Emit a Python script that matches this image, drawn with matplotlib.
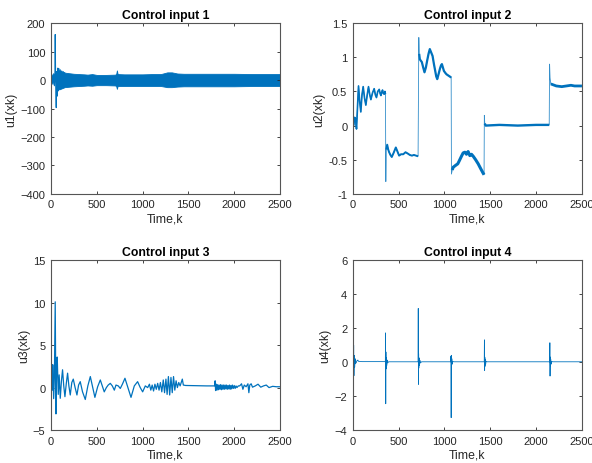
import numpy as np
import matplotlib
matplotlib.use('Agg')
import matplotlib.pyplot as plt

plt.rcParams['font.family'] = ['Liberation Sans', 'DejaVu Sans']

# ---- data ----
# control input 1: early transient
k1 = [0, 3, 8, 15, 22, 30, 38, 44, 47, 51, 55, 58, 62, 66, 70, 76, 82, 88, 95, 102, 110, 118, 126, 134, 142, 150]
u1 = [-360, 15, -12, 18, -15, 22, -20, 30, 160, 20, -40, -97, 30, -57, 10, 42, -38, 40, -33, 36, -30, 32, -28, 30, -27, 26]
# control input 1: envelope of the dense oscillation band
k1_band = [90, 150, 250, 364, 400, 450, 500, 600, 700, 712, 720, 728, 800, 900, 1000, 1100, 1200, 1270,
           1320, 1380, 1450, 1600, 1800, 2000, 2200, 2400, 2500]
u1_top = [34, 26, 22, 20, 19, 21, 18, 18, 19, 21, 34, 21, 20, 20, 20, 21, 21, 27, 27, 23, 22, 22, 22, 22, 21, 21, 21]
u1_bot = [-33, -25, -22, -20, -19, -20, -18, -18, -19, -21, -31, -21, -21, -21, -21, -21, -21, -25, -25, -23,
          -22, -22, -22, -22, -21, -21, -21]

# control input 2
k2 = [0, 2, 10, 20, 30, 40, 52, 62, 75, 87, 100, 113, 128, 142, 157, 171, 185, 197, 215, 233, 246, 258, 272,
      288, 298, 306, 316, 324, 333, 342, 350, 356, 360, 364, 375, 386, 396, 410, 425, 445, 469, 487, 505, 525,
      550, 575, 600, 622, 645, 666, 690, 712, 720, 724, 731, 753, 768, 782, 797, 811, 826, 840, 855, 870, 885,
      899, 910, 921, 935, 950, 962, 972, 983, 994, 1010, 1023, 1045, 1067, 1073, 1076, 1085, 1095, 1124, 1145,
      1160, 1185, 1204, 1223, 1240, 1258, 1277, 1295, 1314, 1340, 1368, 1395, 1423, 1432, 1435, 1440, 1450,
      1600, 1800, 2000, 2143, 2147, 2152, 2160, 2180, 2220, 2280, 2330, 2380, 2420, 2460, 2500]
u2 = [0.25, -0.22, 0.0, 0.12, 0.1, -0.05, 0.3, 0.58, 0.35, 0.2, 0.45, 0.57, 0.4, 0.3, 0.45, 0.57, 0.45, 0.38,
      0.48, 0.54, 0.45, 0.41, 0.5, 0.53, 0.47, 0.44, 0.49, 0.52, 0.47, 0.46, 0.5, 0.46, -0.82, -0.35, -0.28,
      -0.35, -0.39, -0.43, -0.46, -0.4, -0.32, -0.38, -0.44, -0.42, -0.42, -0.39, -0.41, -0.43, -0.44, -0.43,
      -0.44, -0.45, 1.29, 1.05, 0.97, 0.93, 0.85, 0.78, 0.85, 0.95, 1.05, 1.12, 1.07, 1.02, 0.9, 0.8, 0.72,
      0.68, 0.75, 0.83, 0.88, 0.9, 0.85, 0.8, 0.77, 0.75, 0.73, 0.71, 0.7, -0.71, -0.65, -0.61, -0.58, -0.56,
      -0.52, -0.45, -0.4, -0.39, -0.42, -0.38, -0.44, -0.42, -0.45, -0.5, -0.56, -0.63, -0.7, -0.72, 0.15,
      0.03, 0.0, 0.01, 0.0, 0.01, 0.01, 0.9, 0.7, 0.61, 0.6, 0.58, 0.57, 0.58, 0.59, 0.58, 0.58, 0.58]

# control input 3
k3 = [0, 8, 14, 20, 30, 38, 47, 55, 62, 69, 80, 90, 102, 115, 127, 140, 153, 168, 182, 196, 211, 228, 244,
      262, 284, 302, 320, 345, 375, 403, 430, 455, 480, 510, 539, 560, 582, 605, 625, 648, 670, 692, 710, 735,
      757, 780, 808, 840, 874, 910, 946, 975, 1001, 1030, 1056, 1075, 1090, 1105, 1120, 1135, 1150, 1165, 1180,
      1195, 1210, 1226, 1240, 1255, 1268, 1282, 1296, 1310, 1324, 1338, 1352, 1366, 1380, 1395, 1410, 1425,
      1434, 1445, 1470, 1600, 1700, 1788, 1792, 1797, 1805, 1812, 1820, 1828, 1836, 1844, 1852, 1860, 1868,
      1876, 1884, 1892, 1900, 1908, 1916, 1924, 1932, 1940, 1948, 1956, 1964, 1972, 1980, 1990, 2000, 2010,
      2020, 2030, 2045, 2060, 2080, 2095, 2110, 2130, 2150, 2160, 2170, 2185, 2200, 2230, 2260, 2290, 2320,
      2350, 2380, 2420, 2460, 2500]
u3 = [0.0, 2.5, -0.3, 2.7, -1.3, 1.2, 10.1, -3.1, 2.2, 3.6, -0.8, 1.5, -1.26, 0.8, 2.1, 0.2, -1.07, 0.5, 1.7,
      0.2, -0.87, 0.6, 1.0, 0.1, -0.87, 0.3, 0.7, -0.5, -1.4, 0.2, 1.3, 0.1, -1.15, 0.1, 0.9, 0.2, -0.5, 0.0,
      0.3, 0.5, 0.2, -0.3, 0.3, 0.2, -0.1, 0.4, 1.1, 0.0, -1.15, 0.2, 0.7, 0.0, -0.5, 0.2, 0.0, 0.4, -0.3, 0.3,
      -0.4, 0.4, -0.2, 0.5, -0.3, 0.6, -0.5, 0.9, -0.6, 1.0, -0.8, 1.3, -0.87, 1.2, -0.6, 1.3, -0.3, 0.8, 0.0,
      0.6, 0.2, 0.7, 1.0, 0.3, 0.25, 0.22, 0.2, 0.2, 0.8, -0.35, 0.4, -0.3, 0.35, -0.25, 0.3, -0.2, 0.35,
      -0.25, 0.3, -0.2, 0.3, -0.2, 0.3, -0.15, 0.3, -0.2, 0.25, -0.15, 0.3, -0.2, 0.25, -0.15, 0.3, -0.1, 0.25,
      -0.1, 0.2, 0.0, 0.2, 0.2, 0.45, -0.2, 0.3, 0.1, 0.45, -0.6, 0.3, 0.45, 0.05, 0.2, 0.4, 0.05, 0.2, 0.3,
      0.0, 0.15, 0.1, 0.1]

# control input 4
k4 = [0, 1, 2, 4, 6, 9, 12, 16, 20, 25, 30, 40, 50, 55, 60, 100, 355, 357, 359, 361, 363, 366, 370, 375, 380,
      390, 712, 714, 716, 718, 720, 723, 727, 732, 738, 750, 1069, 1071, 1073, 1075, 1077, 1080, 1084, 1090,
      1100, 1434, 1436, 1438, 1440, 1442, 1445, 1449, 1455, 1465, 2148, 2150, 2152, 2154, 2156, 2159, 2163,
      2169, 2180, 2500]
u4 = [0.0, 4.2, -3.5, 2.0, -1.6, 1.0, -0.8, 0.4, -0.3, 0.2, -0.1, 0.05, 0.1, 0.12, 0.05, 0.03, 0.03, 1.72,
      -2.45, 0.6, -0.4, 0.25, -0.2, 0.12, -0.05, 0.02, 0.02, 3.16, -1.31, 0.5, -0.35, 0.25, -0.2, 0.1, -0.05,
      0.02, 0.02, 0.35, -3.27, 0.4, -0.3, 0.2, -0.12, 0.05, 0.02, 0.02, 1.31, -0.49, 0.3, -0.25, 0.18, -0.12,
      0.05, 0.02, 0.02, 1.14, -0.82, 0.3, -0.25, 0.18, -0.12, 0.05, 0.02, 0.02]

titles = ['Control input 1', 'Control input 2', 'Control input 3', 'Control input 4']
ylabels = ['u1(xk)', 'u2(xk)', 'u3(xk)', 'u4(xk)']
ylims = [(-400, 200), (-1, 1.5), (-5, 15), (-4, 6)]
yticks = [np.arange(-400, 201, 100), [-1, -0.5, 0, 0.5, 1, 1.5], np.arange(-5, 16, 5), np.arange(-4, 7, 2)]
yticklabels = [None, ['-1', '-0.5', '0', '0.5', '1', '1.5'], None, None]

blue = '#0072BD'
edge = '#555555'

fig = plt.figure(figsize=(5.92, 4.64), dpi=100)
pos = [[0.086, 0.580, 0.387, 0.368],
       [0.596, 0.580, 0.387, 0.368],
       [0.086, 0.071, 0.387, 0.366],
       [0.596, 0.071, 0.387, 0.366]]
axs = [fig.add_axes(p) for p in pos]

# panel 1
ax = axs[0]
ax.fill_between(k1_band, u1_bot, u1_top, color=blue, lw=0.6)
ax.plot(k1, u1, color=blue, lw=0.8)

# panel 2: thin for the jumps, thicker where the signal is noisy
ax = axs[1]
k2a = np.array(k2)
u2a = np.array(u2)
ax.plot(k2a, u2a, color=blue, lw=0.6, alpha=0.8)
for (a, b), w in zip([(10, 356), (364, 712), (724, 1073), (1085, 1432), (1440, 2143), (2160, 2500)],
                     [1.2, 1.4, 1.6, 2.2, 1.7, 2.0]):
    m = (k2a >= a) & (k2a <= b)
    ax.plot(k2a[m], u2a[m], color=blue, lw=w, solid_capstyle='butt')

# panel 3
axs[2].plot(k3, u3, color=blue, lw=0.9)

# panel 4
axs[3].plot(k4, u4, color=blue, lw=0.6)

for i, ax in enumerate(axs):
    ax.set_xlim(0, 2500)
    ax.set_ylim(*ylims[i])
    ax.set_xticks(np.arange(0, 2501, 500))
    ax.set_yticks(yticks[i])
    if yticklabels[i] is not None:
        ax.set_yticklabels(yticklabels[i])
    ax.tick_params(direction='in', length=2.5, width=0.6, top=True, right=True, labelsize=8,
                   colors='#262626', pad=4)
    for s in ax.spines.values():
        s.set_color(edge)
        s.set_linewidth(0.8)
    ax.set_title(titles[i], fontsize=8.8, fontweight='bold', pad=4)
    ax.set_xlabel('Time,k', fontsize=8.8, color='#262626', labelpad=2)
    ax.set_ylabel(ylabels[i], fontsize=8.8, color='#262626', labelpad=2)

fig.savefig('out.png', dpi=100)
